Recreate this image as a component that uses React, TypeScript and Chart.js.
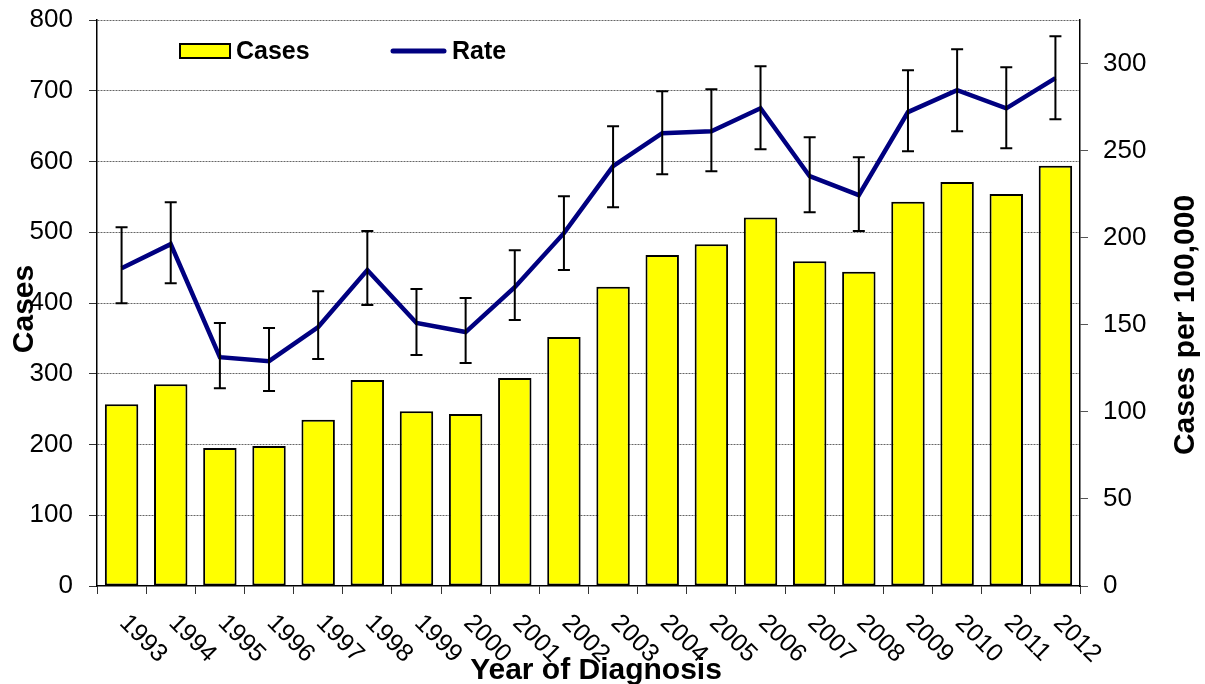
import React, { useEffect, useRef } from "react";
import { Chart, registerables } from "chart.js";

Chart.register(...registerables);

const years = ["1993","1994","1995","1996","1997","1998","1999","2000","2001","2002","2003","2004","2005","2006","2007","2008","2009","2010","2011","2012"];
const cases = [257, 285, 195, 198, 235, 291, 247, 243, 294, 352, 423, 468, 483, 521, 459, 444, 543, 571, 554, 594];
const rate = [182.5, 196.3, 131.4, 129.1, 148.7, 181.4, 151.0, 145.8, 171.6, 202.6, 241.1, 260.0, 261.1, 274.3, 235.3, 224.4, 272.1, 284.7, 274.3, 291.6];
const rateLow = [162.4, 173.9, 113.6, 111.9, 130.3, 161.3, 132.6, 128.0, 152.7, 181.4, 217.5, 236.5, 238.2, 250.8, 214.6, 203.8, 249.7, 261.1, 251.4, 268.0];
const rateHigh = [206.0, 220.4, 151.0, 148.1, 169.3, 203.8, 170.5, 165.3, 192.8, 223.8, 264.0, 284.1, 285.3, 298.5, 257.7, 246.2, 296.2, 308.2, 297.9, 315.7];
const casesAxisMax = 800;
const casesAxisStep = 100;
const rateAxisMax = 325;
const rateAxisStep = 50;

const FONT = "'Liberation Sans', Arial, sans-serif";

const overlayPlugin = {
  id: "overlay",
  afterDatasetsDraw(chart: any) {
    const ctx = chart.ctx;
    const x = chart.scales.x;
    const y1 = chart.scales.y1;
    ctx.save();
    ctx.strokeStyle = "#000";
    ctx.lineWidth = 2;
    for (let i = 0; i < years.length; i++) {
      const px = x.getPixelForValue(i);
      const pt = y1.getPixelForValue(rateHigh[i]);
      const pb = y1.getPixelForValue(rateLow[i]);
      ctx.beginPath();
      ctx.moveTo(px, pt);
      ctx.lineTo(px, pb);
      ctx.moveTo(px - 6, pt);
      ctx.lineTo(px + 6, pt);
      ctx.moveTo(px - 6, pb);
      ctx.lineTo(px + 6, pb);
      ctx.stroke();
    }
    ctx.restore();
  },
  afterDraw(chart: any) {
    const ctx = chart.ctx;
    const x = chart.scales.x;
    ctx.save();
    ctx.fillStyle = "#000";
    ctx.font = `25px ${FONT}`;
    ctx.textAlign = "left";
    ctx.textBaseline = "alphabetic";
    for (let i = 0; i < years.length; i++) {
      const px = x.getPixelForValue(i);
      ctx.save();
      ctx.translate(px - 3, 624);
      ctx.rotate(Math.PI / 4);
      ctx.fillText(years[i], 0, 0);
      ctx.restore();
    }
    ctx.font = `bold 30px ${FONT}`;
    ctx.textAlign = "center";
    ctx.fillText("Year of Diagnosis", 596, 679);
    ctx.save();
    ctx.translate(33, 309);
    ctx.rotate(-Math.PI / 2);
    ctx.fillText("Cases", 0, 0);
    ctx.restore();
    ctx.save();
    ctx.translate(1194, 325);
    ctx.rotate(-Math.PI / 2);
    ctx.fillText("Cases per 100,000", 0, 0);
    ctx.restore();
    ctx.fillStyle = "#FFFF00";
    ctx.fillRect(180, 44, 50, 14);
    ctx.strokeStyle = "#000";
    ctx.lineWidth = 2;
    ctx.strokeRect(180, 44, 50, 14);
    ctx.fillStyle = "#000";
    ctx.font = `bold 25px ${FONT}`;
    ctx.textAlign = "left";
    ctx.fillText("Cases", 236, 59);
    ctx.strokeStyle = "#000080";
    ctx.lineWidth = 5;
    ctx.lineCap = "round";
    ctx.beginPath();
    ctx.moveTo(393, 51);
    ctx.lineTo(444, 51);
    ctx.stroke();
    ctx.fillText("Rate", 452, 59);
    ctx.restore();
  },
};

export default function App() {
  const ref = useRef<HTMLCanvasElement | null>(null);
  useEffect(() => {
    if (!ref.current) return;
    const chart = new Chart(ref.current, {
      type: "bar",
      data: {
        labels: years,
        datasets: [
          {
            type: "line",
            label: "Rate",
            data: rate,
            yAxisID: "y1",
            borderColor: "#000080",
            backgroundColor: "#000080",
            borderWidth: 4.5,
            pointRadius: 0,
            tension: 0,
            order: 0,
          } as any,
          {
            type: "bar",
            label: "Cases",
            data: cases,
            yAxisID: "y",
            backgroundColor: "#FFFF00",
            borderColor: "#000",
            borderWidth: 2,
            borderSkipped: false,
            barPercentage: 0.68,
            categoryPercentage: 1,
            order: 1,
          } as any,
        ],
      },
      options: {
        responsive: false,
        animation: false,
        events: [],
        layout: { padding: { top: 20, left: 0, right: 0, bottom: 0 } },
        plugins: { legend: { display: false }, tooltip: { enabled: false } },
        scales: {
          x: {
            type: "category",
            offset: true,
            grid: {
              offset: true,
              drawOnChartArea: false,
              tickLength: 8,
              tickColor: "#333",
              tickWidth: 1,
            },
            border: { display: true, color: "#000", width: 1.5 },
            ticks: { display: false },
            afterFit: (s: any) => {
              s.height = 98;
            },
          },
          y: {
            position: "left",
            min: 0,
            max: casesAxisMax,
            ticks: {
              stepSize: casesAxisStep,
              color: "#000",
              font: { family: FONT, size: 26 },
              padding: 16,
            },
            grid: {
              color: (c: any) => (c.tick && c.tick.value === 0 ? "rgba(0,0,0,0)" : "#666"),
              lineWidth: 1,
              tickLength: 8,
              tickColor: "#333",
              tickBorderDash: [],
            },
            border: { display: true, color: "#000", width: 1.5, dash: [2, 1] },
            afterFit: (s: any) => {
              s.width = 97;
              s.paddingTop = 0;
              s.paddingBottom = 0;
            },
          },
          y1: {
            position: "right",
            min: 0,
            max: rateAxisMax,
            ticks: {
              stepSize: rateAxisStep,
              color: "#000",
              font: { family: FONT, size: 26 },
              padding: 15,
            },
            afterBuildTicks: (s: any) => {
              s.ticks = s.ticks.filter((t: any) => t.value % rateAxisStep === 0);
            },
            grid: {
              drawOnChartArea: false,
              tickLength: 8,
              tickColor: "#555",
              tickBorderDash: [],
            },
            border: { display: true, color: "#000", width: 1.5 },
            afterFit: (s: any) => {
              s.width = 125;
              s.paddingTop = 0;
              s.paddingBottom = 0;
            },
          },
        },
      },
      plugins: [overlayPlugin],
    });
    return () => chart.destroy();
  }, []);
  return (
    <div style={{ position: "fixed", left: 0, top: 0, width: 1205, height: 684, background: "#fff" }}>
      <canvas ref={ref} width={1205} height={684} style={{ width: 1205, height: 684, display: "block" }} />
    </div>
  );
}
